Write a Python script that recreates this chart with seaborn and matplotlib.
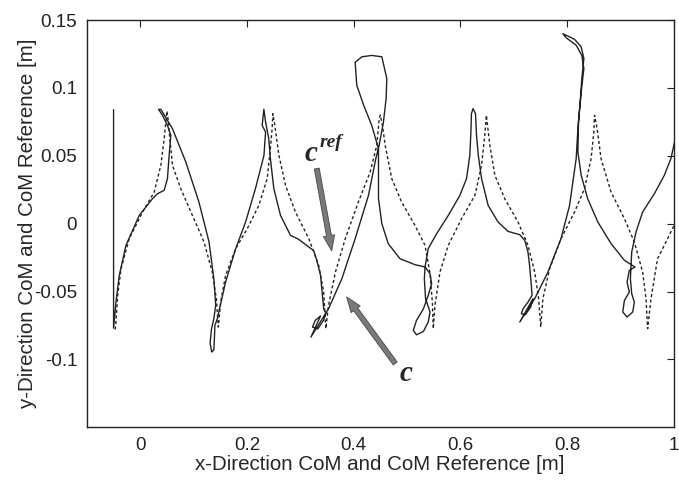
import numpy as np
import pandas as pd
import matplotlib
matplotlib.use("Agg")
import matplotlib.pyplot as plt
import seaborn as sns

# CoM trajectory c (solid)
com_x = [-0.050, -0.050, -0.0455, -0.0393, -0.0268, -0.0019, 0.023, 0.0324, 0.0449, 0.051,
         0.0542, 0.0573, 0.051, 0.0417, 0.0343, 0.0386, 0.0604, 0.0854, 0.110, 0.129,
         0.138, 0.1415, 0.138, 0.1335, 0.131, 0.134, 0.138, 0.139, 0.140, 0.1445,
         0.160, 0.179, 0.1975, 0.216, 0.232, 0.235, 0.2286, 0.2318, 0.235, 0.241,
         0.244, 0.2505, 0.263, 0.2817, 0.297, 0.316, 0.325, 0.331, 0.338, 0.341,
         0.344, 0.348, 0.344, 0.333, 0.323, 0.328, 0.338, 0.320, 0.353, 0.378,
         0.403, 0.428, 0.4417, 0.448, 0.456, 0.461, 0.4623, 0.453, 0.434, 0.4156,
         0.403, 0.406, 0.419, 0.434, 0.4467, 0.4467, 0.4467, 0.453, 0.465, 0.487,
         0.515, 0.534, 0.5434, 0.5464, 0.540, 0.531, 0.518, 0.512, 0.518, 0.531,
         0.540, 0.5434, 0.535, 0.5327, 0.534, 0.540, 0.5557, 0.5776, 0.5994, 0.6118,
         0.618, 0.620, 0.621, 0.624, 0.6286, 0.6305, 0.634, 0.640, 0.6523, 0.671,
         0.6897, 0.7116, 0.721, 0.727, 0.730, 0.7333, 0.7346, 0.727, 0.7178, 0.7146,
         0.722, 0.732, 0.7364, 0.7116, 0.7396, 0.7645, 0.789, 0.805, 0.8174, 0.8206,
         0.8249, 0.828, 0.8318, 0.8268, 0.8143, 0.7925, 0.7987, 0.8174, 0.828, 0.8318,
         0.8268, 0.8218, 0.8206, 0.8268, 0.839, 0.858, 0.8828, 0.9078, 0.9277, 0.917,
         0.9128, 0.917, 0.9078, 0.9047, 0.9128, 0.9234, 0.9265, 0.9215, 0.919, 0.9215,
         0.9296, 0.942, 0.964, 0.9826, 0.995, 1.003, 1.010]
com_y = [0.084, -0.077, -0.0578, -0.0381, -0.016, 0.0061, 0.0184, 0.0221, 0.0246, 0.0332,
         0.0504, 0.0651, 0.0725, 0.0799, 0.0843, 0.0843, 0.070, 0.0455, 0.016, -0.0135,
         -0.0406, -0.0602, -0.070, -0.078, -0.088, -0.0946, -0.093, -0.085, -0.075, -0.070,
         -0.043, -0.0184, 0.0012, 0.0258, 0.0504, 0.0676, 0.0725, 0.0843, 0.075, 0.0627,
         0.048, 0.0258, 0.0061, -0.0086, -0.0115, -0.0172, -0.0197, -0.027, -0.038, -0.0504,
         -0.0627, -0.066, -0.071, -0.0775, -0.0762, -0.0713, -0.068, -0.0836, -0.0627, -0.0406,
         -0.011, 0.0209, 0.048, 0.0578, 0.075, 0.092, 0.107, 0.123, 0.124, 0.123,
         0.119, 0.102, 0.0872, 0.0725, 0.0553, 0.038, 0.0184, 0.0, -0.0147, -0.0258,
         -0.0302, -0.0319, -0.0369, -0.0442, -0.0529, -0.0627, -0.0713, -0.0787, -0.0819, -0.0794,
         -0.0725, -0.0651, -0.0553, -0.0406, -0.0319, -0.0184, -0.0074, 0.0061, 0.0209, 0.0332,
         0.0504, 0.0676, 0.0811, 0.0848, 0.0811, 0.0651, 0.050, 0.0332, 0.0135, 0.0012,
         -0.0057, -0.0081, -0.0123, -0.0209, -0.0307, -0.0455, -0.0528, -0.0578, -0.0627, -0.0664,
         -0.0671, -0.0615, -0.0553, -0.0725, -0.0553, -0.0356, -0.011, 0.0135, 0.048, 0.070,
         0.0897, 0.107, 0.1217, 0.1303, 0.1359, 0.140, 0.137, 0.1315, 0.124, 0.1143,
         0.0971, 0.075, 0.0529, 0.0356, 0.0184, 0.0012, -0.0147, -0.027, -0.032, -0.0344,
         -0.043, -0.0504, -0.0566, -0.0651, -0.0688, -0.0651, -0.0578, -0.0516, -0.0406, -0.0209,
         -0.0061, 0.0086, 0.0221, 0.0356, 0.048, 0.062, 0.080]

# CoM reference c_ref (dashed)
ref_x = [-0.047, -0.0455, -0.0424, -0.036, -0.0206, 0.0044, 0.0262, 0.0386, 0.0449, 0.048,
         0.050, 0.052, 0.0555, 0.0604, 0.076, 0.0978, 0.1196, 0.135, 0.1427, 0.1464,
         0.1508, 0.160, 0.179, 0.2006, 0.2224, 0.238, 0.244, 0.2473, 0.2486, 0.2523,
         0.260, 0.2723, 0.291, 0.316, 0.3346, 0.344, 0.348, 0.353, 0.366, 0.3845,
         0.409, 0.431, 0.4436, 0.448, 0.450, 0.4542, 0.4592, 0.4716, 0.490, 0.515,
         0.534, 0.5434, 0.5477, 0.5495, 0.5527, 0.562, 0.5776, 0.6025, 0.6275, 0.640,
         0.646, 0.649, 0.6555, 0.665, 0.6835, 0.7084, 0.727, 0.7396, 0.747, 0.751,
         0.755, 0.7676, 0.789, 0.8143, 0.833, 0.8454, 0.8505, 0.8518, 0.8567, 0.864,
         0.8828, 0.9078, 0.9265, 0.942, 0.9483, 0.9514, 0.9576, 0.970, 0.9888, 1.004]
ref_y = [-0.078, -0.0725, -0.0529, -0.0332, -0.011, 0.0086, 0.0233, 0.043, 0.0627, 0.075,
         0.083, 0.0774, 0.0627, 0.043, 0.0258, 0.0061, -0.0135, -0.0356, -0.0553, -0.0762,
         -0.0578, -0.0381, -0.0184, -0.0037, 0.0135, 0.0332, 0.0553, 0.070, 0.0811, 0.0725,
         0.0504, 0.0283, 0.0086, -0.011, -0.0307, -0.0504, -0.0774, -0.0602, -0.0356, -0.011,
         0.016, 0.038, 0.0578, 0.0774, 0.080, 0.0725, 0.0578, 0.0332, 0.016, -0.0012,
         -0.016, -0.0369, -0.0578, -0.0774, -0.060, -0.0356, -0.016, 0.0037, 0.0209, 0.043,
         0.065, 0.0799, 0.0578, 0.0356, 0.0184, 0.0012, -0.016, -0.0356, -0.0553, -0.0762,
         -0.0553, -0.0332, -0.011, 0.0086, 0.0258, 0.048, 0.0676, 0.0799, 0.070, 0.048,
         0.0233, 0.0037, -0.0135, -0.0356, -0.0553, -0.0774, -0.0553, -0.0258, -0.011, 0.0012]

x_ticks = [0, 0.2, 0.4, 0.6, 0.8, 1]
x_ticklabels = ["0", "0.2", "0.4", "0.6", "0.8", "1"]
y_ticks = [-0.1, -0.05, 0, 0.05, 0.1, 0.15]
y_ticklabels = ["-0.1", "-0.05", "0", "0.05", "0.1", "0.15"]

sns.set_style("white")
plt.rcParams['font.family'] = ['Liberation Sans', 'DejaVu Sans']

fig = plt.figure(figsize=(6.79, 4.80), dpi=100)
ax = fig.add_axes([0.128, 0.110, 0.864, 0.848])

com = pd.DataFrame({"x": com_x, "y": com_y})
ref = pd.DataFrame({"x": ref_x, "y": ref_y})
sns.lineplot(data=ref, x="x", y="y", sort=False, estimator=None, ax=ax,
             color="#222222", lw=1.0, linestyle=(0, (2.2, 1.8)))
sns.lineplot(data=com, x="x", y="y", sort=False, estimator=None, ax=ax,
             color="#222222", lw=1.0)

ax.set_xlim(-0.1, 1.0)
ax.set_ylim(-0.15, 0.15)
ax.set_xticks(x_ticks)
ax.set_xticklabels(x_ticklabels)
ax.set_yticks(y_ticks)
ax.set_yticklabels(y_ticklabels)
ax.tick_params(direction="in", length=5, width=0.8, top=True, right=True,
               labelsize=13.5, colors="#222222", pad=7)
for sp in ax.spines.values():
    sp.set_color("#222222")
    sp.set_linewidth(1.0)
ax.set_xlabel("x-Direction CoM and CoM Reference [m]", fontsize=14.8, labelpad=1)
ax.set_ylabel("y-Direction CoM and CoM Reference [m]", fontsize=14.8, labelpad=-2)

# annotations
serif = ['Liberation Serif', 'DejaVu Serif']
ax.text(0.320, 0.0516, "c", family=serif, fontsize=21, fontweight="bold",
        style="italic", ha="center", va="center")
ax.text(0.358, 0.0595, "ref", family=serif, fontsize=14, fontweight="bold",
        style="italic", ha="center", va="center")
ax.text(0.499, -0.1106, "c", family=serif, fontsize=21, fontweight="bold",
        style="italic", ha="center", va="center")

arrow = dict(arrowstyle="simple,head_length=1.1,head_width=0.8,tail_width=0.35",
             fc="#7a7a7a", ec="#505050", lw=0.7, shrinkA=0, shrinkB=0)
ax.annotate("", xy=(0.359, -0.020), xytext=(0.331, 0.0406), arrowprops=arrow)
ax.annotate("", xy=(0.387, -0.054), xytext=(0.478, -0.103), arrowprops=arrow)

fig.savefig("out.png", dpi=100)
